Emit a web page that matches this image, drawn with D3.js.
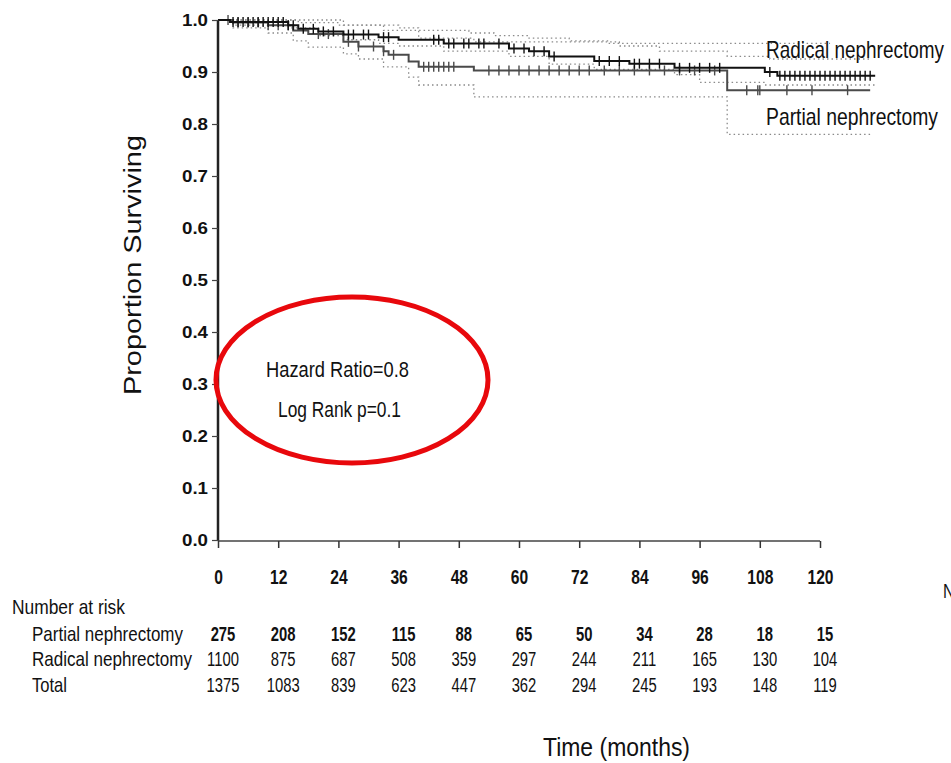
<!DOCTYPE html>
<html>
<head>
<meta charset="utf-8">
<script src="https://cdn.jsdelivr.net/npm/d3@7/dist/d3.min.js"></script>
<style>
  html, body { margin: 0; padding: 0; background: #fff; }
  svg text { font-family: "Liberation Sans", Arial, sans-serif; fill: #111; }
</style>
</head>
<body>
<div id="chart"></div>
<script>
// Kaplan-Meier steps: [months, proportion surviving]
const radicalSteps = [[0, 1], [2.4, 0.996], [14, 0.99], [16, 0.983], [20, 0.978], [25, 0.972], [32, 0.967],
  [36, 0.962], [45, 0.955], [58, 0.945], [62, 0.94], [66, 0.93], [75, 0.921], [82, 0.916], [91, 0.908],
  [109, 0.9], [111.5, 0.893], [131, 0.893]];
const partialSteps = [[0, 1], [3, 0.995], [10, 0.99], [15, 0.98], [18, 0.973], [25, 0.958], [28, 0.949],
  [33, 0.94], [34, 0.933], [38, 0.92], [40, 0.91], [51, 0.903], [101.5, 0.865], [130, 0.865]];

// confidence limits (dotted)
const radicalUpper = [[0, 1], [12, 1], [16, 0.995], [24, 0.99], [36, 0.985], [40, 0.98], [50, 0.975], [55, 0.97],
  [62, 0.965], [70, 0.96], [78, 0.955], [122, 0.955]];
const radicalLower = [[0, 1], [3, 0.99], [14, 0.985], [20, 0.97], [25, 0.962], [32, 0.955], [36, 0.95], [45, 0.94],
  [58, 0.93], [66, 0.915], [75, 0.905], [91, 0.895], [96, 0.88], [109, 0.875], [131, 0.875]];
const partialUpper = [[0, 1], [15, 1], [25, 0.99], [33, 0.98], [40, 0.965], [51, 0.958], [80, 0.95], [88, 0.94],
  [101.5, 0.93], [110, 0.925], [130, 0.925]];
const partialLower = [[0, 1], [3, 0.985], [10, 0.975], [15, 0.96], [18, 0.948], [25, 0.935], [28, 0.925], [33, 0.91],
  [38, 0.89], [40, 0.875], [51, 0.852], [101.5, 0.78], [130, 0.78]];

// censoring marks (months)
const radicalCensor = [3, 4, 5, 6, 7, 8, 9, 10, 11, 12, 13, 14, 15, 17, 19, 21, 23, 26, 27, 29, 30, 33, 34,
  43, 44, 46, 47, 49, 50, 52, 53, 56, 59, 61, 63, 65, 67, 76, 78, 80, 83, 84, 86, 88, 92, 94, 96, 98, 100,
  110, 112, 113, 114, 115, 116, 117, 118, 119, 120, 121, 122, 123, 124, 125, 126, 127, 128, 129, 130];
const partialCensor = [2, 4, 6, 8, 10, 12, 14, 20, 22, 26, 28, 31, 33, 35, 41, 42, 43, 44, 45, 46, 47,
  54, 56, 58, 60, 62, 64, 66, 68, 70, 72, 74, 77, 80, 83, 86, 89, 92, 95, 99,
  105.4, 107.6, 108, 113.4, 118.4, 125.5];

const xTicks = [0, 12, 24, 36, 48, 60, 72, 84, 96, 108, 120];
const yTicks = [0, 0.1, 0.2, 0.3, 0.4, 0.5, 0.6, 0.7, 0.8, 0.9, 1.0];

const riskRows = ['Partial nephrectomy', 'Radical nephrectomy', 'Total'];
const riskPartial = [275, 208, 152, 115, 88, 65, 50, 34, 28, 18, 15];
const riskRadical = [1100, 875, 687, 508, 359, 297, 244, 211, 165, 130, 104];
const riskTotal = [1375, 1083, 839, 623, 447, 362, 294, 245, 193, 148, 119];

const W = 951, H = 763;
const svg = d3.select('#chart').append('svg').attr('width', W).attr('height', H);

const x = d3.scaleLinear().domain([0, 120]).range([218, 820]);
const y = d3.scaleLinear().domain([0, 1]).range([540, 20]);

// squeeze text to look like a narrow face
function condense(sel, factor) {
  sel.each(function () {
    const len = this.getComputedTextLength();
    d3.select(this).attr('textLength', len * factor).attr('lengthAdjust', 'spacingAndGlyphs');
  });
}
function fitWidth(sel, w) {
  sel.attr('textLength', w).attr('lengthAdjust', 'spacingAndGlyphs');
}

// survival at time t for a step series
function survAt(steps, t) {
  let s = steps[0][1];
  for (const p of steps) { if (p[0] <= t) s = p[1]; }
  return s;
}

const stepLine = d3.line().x(d => x(d[0])).y(d => y(d[1])).curve(d3.curveStepAfter);

// CI dotted lines
[radicalUpper, radicalLower, partialUpper, partialLower].forEach(ci => {
  svg.append('path').attr('d', stepLine(ci))
    .attr('fill', 'none').attr('stroke', '#8a8a8a').attr('stroke-width', 1.3)
    .attr('stroke-dasharray', '1.5,3');
});

// survival curves
const series = [
  { steps: partialSteps, censor: partialCensor, color: '#4a4a4a' },
  { steps: radicalSteps, censor: radicalCensor, color: '#111' }
];
series.forEach(s => {
  svg.append('path').attr('d', stepLine(s.steps))
    .attr('fill', 'none').attr('stroke', s.color).attr('stroke-width', 2);
  svg.append('g').selectAll('line').data(s.censor).join('line')
    .attr('x1', d => x(d)).attr('x2', d => x(d))
    .attr('y1', d => y(survAt(s.steps, d)) - 5)
    .attr('y2', d => y(survAt(s.steps, d)) + 5)
    .attr('stroke', s.color).attr('stroke-width', 1.4);
});

// axes
const yAxis = svg.append('g').attr('transform', 'translate(218,0)')
  .call(d3.axisLeft(y).tickValues(yTicks).tickFormat(d3.format('.1f')).tickSize(6).tickPadding(4));
yAxis.select('.domain').attr('stroke', '#222').attr('stroke-width', 2.5).attr('d', 'M0,20V541');
yAxis.selectAll('.tick line').attr('stroke', '#444').attr('stroke-width', 1.2);
yAxis.selectAll('text').attr('font-size', 16).attr('font-weight', 'bold')
  .style('font-family', '"Liberation Sans", Arial, sans-serif')
  .call(fitWidth, 26);

const xAxis = svg.append('g').attr('transform', 'translate(0,541)')
  .call(d3.axisBottom(x).tickValues(xTicks).tickSize(7).tickPadding(22));
xAxis.select('.domain').attr('stroke', '#444').attr('stroke-width', 1.5).attr('d', 'M218,0H820');
xAxis.selectAll('.tick line').attr('stroke', '#333').attr('stroke-width', 1.5);
xAxis.selectAll('text').attr('font-size', 20).attr('font-weight', 'bold')
  .style('font-family', '"Liberation Sans", Arial, sans-serif')
  .call(condense, 0.78);

// y label
svg.append('text')
  .attr('transform', 'translate(141,265) rotate(-90)')
  .attr('text-anchor', 'middle').attr('font-size', 23)
  .text('Proportion Surviving')
  .call(fitWidth, 260);

// curve labels
svg.append('text').attr('x', 766).attr('y', 58).attr('font-size', 24).text('Radical nephrectomy').call(fitWidth, 178);
svg.append('text').attr('x', 766).attr('y', 125).attr('font-size', 24).text('Partial nephrectomy').call(fitWidth, 172);

// annotation
svg.append('ellipse').attr('cx', 352).attr('cy', 380).attr('rx', 136).attr('ry', 83)
  .attr('fill', 'none').attr('stroke', '#e8080c').attr('stroke-width', 5);
svg.append('text').attr('x', 266).attr('y', 377).attr('font-size', 22).text('Hazard Ratio=0.8').call(fitWidth, 143);
svg.append('text').attr('x', 278).attr('y', 417).attr('font-size', 22).text('Log Rank p=0.1').call(fitWidth, 123);

// number at risk table
svg.append('text').attr('x', 12).attr('y', 614).attr('font-size', 21).text('Number at risk').call(fitWidth, 113);
const rowY = [641, 666, 692];
const rowW = [151, 160, 35];
const riskData = [riskPartial, riskRadical, riskTotal];
riskRows.forEach((name, i) => {
  svg.append('text').attr('x', 32).attr('y', rowY[i]).attr('font-size', 21).text(name).call(fitWidth, rowW[i]);
  svg.append('g').selectAll('text').data(riskData[i]).join('text')
    .attr('x', (d, j) => x(xTicks[j]) + 5)
    .attr('y', rowY[i])
    .attr('text-anchor', 'middle')
    .attr('font-size', 20)
    .attr('font-weight', i === 0 ? 'bold' : 'normal')
    .text(d => d)
    .call(condense, 0.74);
});

svg.append('text').attr('x', 543).attr('y', 756)
  .attr('font-size', 26).text('Time (months)').call(fitWidth, 147);

// cut-off label at right edge
svg.append('text').attr('x', 943).attr('y', 598).attr('font-size', 20).text('N').call(condense, 0.8);
</script>
</body>
</html>
